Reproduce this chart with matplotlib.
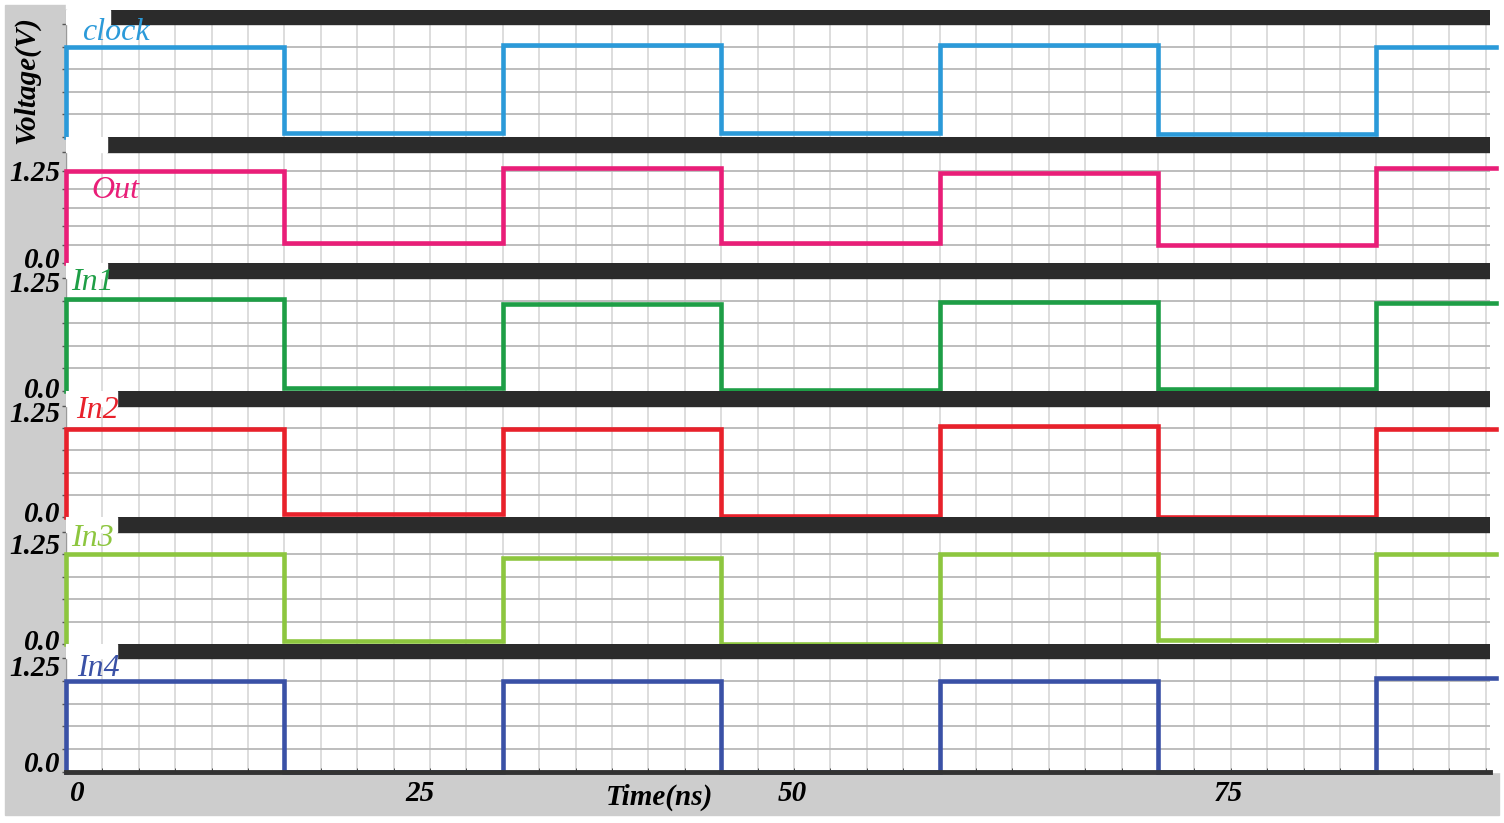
import matplotlib
matplotlib.use("Agg")
import matplotlib.pyplot as plt
from matplotlib.patches import Rectangle
from matplotlib.transforms import ScaledTranslation
import numpy as np

# switching instants (ns) and end of the trace
edges = [0, 15, 30, 45, 60, 75, 90, 98.2]

# voltage level in each interval between edges
clock = [1.00, 0.04, 1.02, 0.04, 1.02, 0.03, 1.00]
out = [1.25, 0.27, 1.28, 0.27, 1.21, 0.25, 1.28]
in1 = [1.02, 0.03, 0.96, 0.01, 0.99, 0.02, 0.97]
in2 = [0.99, 0.03, 0.99, 0.01, 1.03, 0.00, 0.99]
in3 = [1.00, 0.03, 0.96, 0.00, 1.00, 0.05, 1.00]
in4 = [1.00, 0.00, 1.00, 0.00, 1.00, 0.00, 1.03]

names = ["clock", "Out", "In1", "In2", "In3", "In4"]
series = [clock, out, in1, in2, in3, in4]
colors = ["#2b9ad9", "#e91e78", "#1e9e46", "#e8212b", "#8dc63f", "#3a51a6"]
vmax = [1.25, 1.5, 1.25, 1.25, 1.25, 1.25]

tick_pos = [0.8, 24.3, 49.9, 79.8]
tick_lbl = ["0", "25", "50", "75"]

W, H = 1504, 823
# panel pixel rows: top of black bar, bottom of bar, bottom of panel
rows = [(10, 24, 137), (137, 152, 263), (263, 278, 391),
        (391, 406, 517), (517, 532, 644), (644, 658, 772)]
bar_start = [3.0, 2.8, 2.8, 3.5, 3.5, 3.5]
name_xy = [(82, 32), (91, 190), (71, 283), (76, 410), (71, 538), (77, 668)]
# nudges (px) of the 0.0 label upwards and the 1.25 label downwards
lo_shift = [0, 6, 3.5, 6, 4.5, 10]
hi_shift = [0, 0, 3.5, 6, 11, 8]

x0, x1 = 66, 1490
xmax = 97.8

fig = plt.figure(figsize=(W / 100, H / 100), dpi=100)
fig.patches.append(Rectangle((5 / W, 1 - 815 / H), 1494 / W, 810 / H,
                             transform=fig.transFigure, color="#cdcdcd", zorder=-2))
fig.patches.append(Rectangle((x0 / W, 1 - 772 / H), (W - x0) / W, 772 / H,
                             transform=fig.transFigure, color="white", zorder=-1))

tf = dict(family="Liberation Serif", weight="bold", style="italic", size=21)
fp = matplotlib.font_manager.FontProperties(**tf)

for i, (nm, lv, c, vm) in enumerate(zip(names, series, colors, vmax)):
    top, barbot, bot = rows[i]
    ax = fig.add_axes([x0 / W, 1 - bot / H, (x1 - x0) / W, (bot - top) / H])
    ytop = vm * (bot - top) / (bot - barbot)
    ax.set_xlim(0, xmax)
    ax.set_ylim(0, ytop)
    for s in ["top", "right"]:
        ax.spines[s].set_visible(False)
    ax.spines["left"].set_color("#9a9a9a")
    ax.spines["left"].set_linewidth(1)
    ax.spines["bottom"].set_visible(i == 5)
    ax.spines["bottom"].set_color("#333333")
    ax.spines["bottom"].set_linewidth(3.5)
    ax.spines["bottom"].set_zorder(6)

    yt = np.arange(0, vm + 0.001, 0.25)
    ax.set_yticks(yt)
    if i == 0:
        ax.set_yticklabels([""] * len(yt))
    else:
        ax.set_yticklabels(["0.0" if v == 0 else ("1.25" if abs(v - 1.25) < 1e-6 else "") for v in yt])
    ax.tick_params(axis="y", length=3, width=1, color="#555555", pad=1)
    for lab, v in zip(ax.get_yticklabels(), yt):
        lab.set_fontproperties(fp)
        if v == 0:
            dy = lo_shift[i]
        elif abs(v - 1.25) < 1e-6:
            dy = -hi_shift[i]
        else:
            dy = 0
        lab.set_transform(lab.get_transform() + ScaledTranslation(0, dy / 100, fig.dpi_scale_trans))

    gx = np.arange(0, xmax, 2.5)
    for g in gx[1:]:
        ax.axvline(g, color="#dadada", lw=1.3, zorder=1)
    for g in yt[1:]:
        ax.axhline(g, color="#b8b8b8", lw=1.3, zorder=1)

    if i == 5:
        ax.set_xticks(tick_pos)
        ax.set_xticklabels(tick_lbl)
        ax.set_xticks(gx, minor=True)
        ax.tick_params(axis="x", which="major", length=0, pad=6)
        ax.tick_params(axis="x", which="minor", length=3, direction="in", color="#333333")
        for lab in ax.get_xticklabels():
            lab.set_fontproperties(fp)
    else:
        ax.set_xticks([])

    # black separator bar across the top of the panel
    ax.add_patch(Rectangle((bar_start[i], vm), xmax - bar_start[i], ytop - vm,
                           color="#2b2b2b", zorder=3))
    ax.add_patch(Rectangle((0, vm), bar_start[i], ytop - vm, color="white", zorder=3))

    xs = np.concatenate([[0], np.repeat(edges, 2)[1:-1]])
    ys = np.concatenate([[0], np.repeat(lv, 2)])
    ax.plot(xs, ys, color=c, lw=3.3, zorder=4, clip_on=False,
            solid_joinstyle="miter")

    fig.text(name_xy[i][0] / W, 1 - name_xy[i][1] / H, nm, color=c,
             family="Liberation Serif", style="italic", size=23,
             ha="left", va="center", zorder=5)

fig.text(27 / W, 1 - 80 / H, "Voltage(V)", rotation=90, ha="center", va="center", **tf)
fig.text(660 / W, 1 - 797 / H, "Time(ns)", ha="center", va="center", **tf)

fig.savefig("out.png", dpi=100)
